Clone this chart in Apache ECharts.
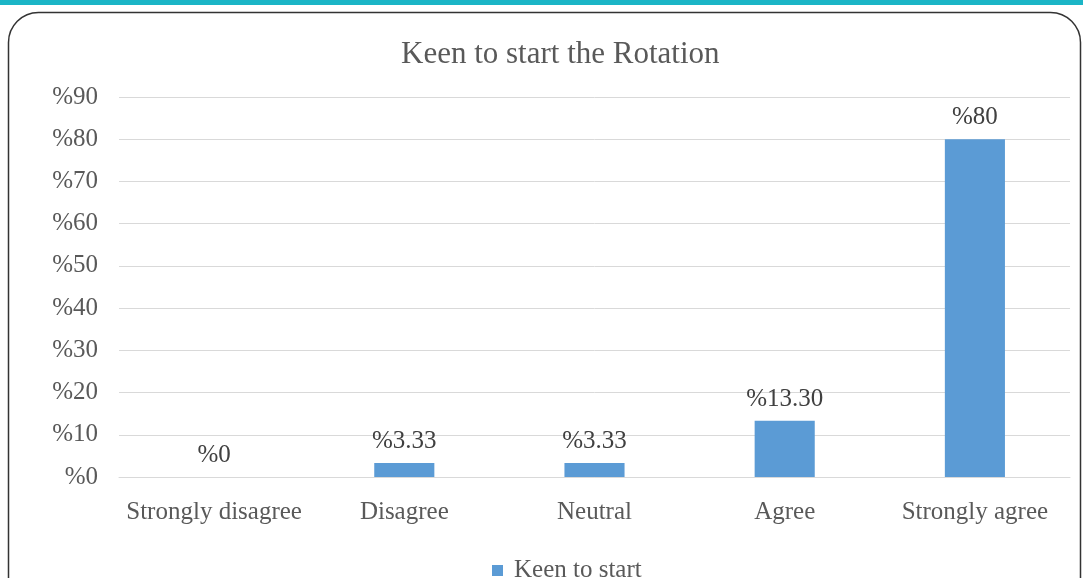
<!DOCTYPE html>
<html>
<head>
<meta charset="utf-8">
<script src="https://cdn.jsdelivr.net/npm/echarts@6/dist/echarts.min.js"></script>
<style>html,body{margin:0;padding:0;background:#fff}#c{width:1083px;height:578px}</style>
</head>
<body>
<div id="c"></div>
<script>
const categories = ['Strongly disagree', 'Disagree', 'Neutral', 'Agree', 'Strongly agree'];
const values = [0, 3.33, 3.33, 13.3, 80];
const valueLabels = ['%0', '%3.33', '%3.33', '%13.30', '%80'];
const seriesName = 'Keen to start';
const titleText = 'Keen to start the Rotation';

const serif = '"Liberation Serif", "DejaVu Serif", serif';
const chart = echarts.init(document.getElementById('c'));
chart.setOption({
  animation: false,
  backgroundColor: '#fff',
  textStyle: { fontFamily: serif },
  graphic: [
    { type: 'rect', z: -10, shape: { x: 0, y: 0, width: 1083, height: 5 }, style: { fill: '#1BB5C6' } },
    { type: 'rect', z: -10, shape: { x: 8.5, y: 12.5, width: 1072, height: 640, r: 30 }, style: { fill: 'none', stroke: '#333', lineWidth: 1.5 } }
  ],
  title: {
    text: titleText, left: 396, top: 34,
    textStyle: { fontFamily: serif, fontSize: 31, fontWeight: 'normal', color: '#595959' }
  },
  legend: {
    top: 553, left: 487, itemWidth: 11, itemHeight: 11, icon: 'rect',
    textStyle: { fontFamily: serif, fontSize: 25, color: '#595959', padding: [0, 0, 0, 6] }
  },
  grid: { left: 119, right: 13, top: 97, bottom: 101, containLabel: false },
  xAxis: {
    type: 'category', data: categories,
    axisLine: { lineStyle: { color: '#D9D9D9' } }, axisTick: { show: false },
    axisLabel: { interval: 0, fontFamily: serif, fontSize: 25, color: '#595959', margin: 23 }
  },
  yAxis: {
    type: 'value', min: 0, max: 90, interval: 10,
    axisLine: { show: false }, axisTick: { show: false },
    splitLine: { lineStyle: { color: '#D9D9D9' } },
    axisLabel: { fontFamily: serif, fontSize: 25, color: '#595959', margin: 21, formatter: v => '%' + v }
  },
  series: [{
    name: seriesName, type: 'bar', data: values, barWidth: '31.6%',
    itemStyle: { color: '#5B9BD5' },
    label: { show: true, position: 'top', distance: 9, fontFamily: serif, fontSize: 25, color: '#404040',
      formatter: p => valueLabels[p.dataIndex] }
  }]
});
</script>
</body>
</html>
